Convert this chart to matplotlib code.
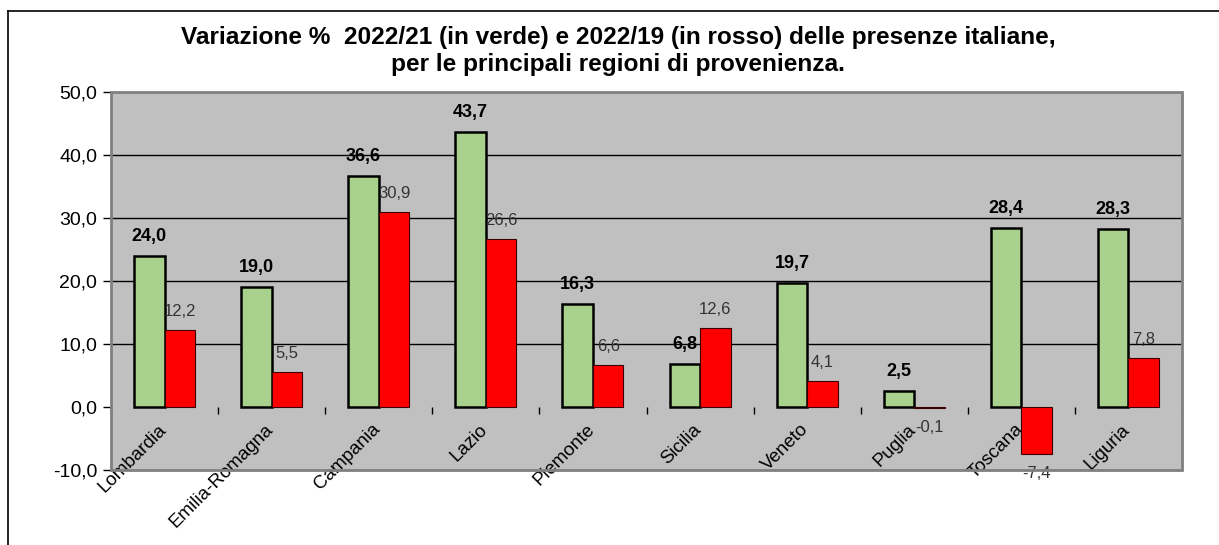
import matplotlib.pyplot as plt
import matplotlib.transforms as mtransforms
import numpy as np
from matplotlib.lines import Line2D
from matplotlib.patches import Rectangle

plt.rcParams['font.family'] = ['Liberation Sans', 'DejaVu Sans']

regioni = ["Lombardia", "Emilia-Romagna", "Campania", "Lazio", "Piemonte",
           "Sicilia", "Veneto", "Puglia", "Toscana", "Liguria"]
var_22_21 = [24.0, 19.0, 36.6, 43.7, 16.3, 6.8, 19.7, 2.5, 28.4, 28.3]
var_22_19 = [12.2, 5.5, 30.9, 26.6, 6.6, 12.6, 4.1, -0.1, -7.4, 7.8]
y_ticks = [-10, 0, 10, 20, 30, 40, 50]


def fmt(v):
    return f"{v:.1f}".replace(".", ",")


fig = plt.figure(figsize=(12.19, 5.45), dpi=100)
ax = fig.add_axes([111 / 1219, 1 - 470 / 545, (1182 - 111) / 1219, (470 - 92) / 545])
ax.set_facecolor("#c0c0c0")

x = np.arange(len(regioni))
w = 0.285
ax.bar(x - w / 2, var_22_21, w, color="#a9d18e", edgecolor="black", linewidth=1.8, zorder=3)
ax.bar(x + w / 2, var_22_19, w, color="#ff0000", edgecolor="#3a0000", linewidth=0.8, zorder=3)

for i in range(len(regioni)):
    ax.annotate(fmt(var_22_21[i]), (x[i] - w / 2, var_22_21[i]), xytext=(0, 8),
                textcoords="offset points", ha="center", va="bottom",
                fontsize=13, fontweight="bold", color="black", zorder=4)
    v = var_22_19[i]
    if v >= 0:
        ax.annotate(fmt(v), (x[i] + w / 2, v), xytext=(0, 8), textcoords="offset points",
                    ha="center", va="bottom", fontsize=12, color="#333333", zorder=4)
    else:
        ax.annotate(fmt(v), (x[i] + w / 2, v), xytext=(0, -9), textcoords="offset points",
                    ha="center", va="top", fontsize=12, color="#333333", zorder=4)

ax.set_xlim(-0.5, len(regioni) - 0.5)
ax.set_ylim(-10, 50)
ax.set_yticks(y_ticks)
ax.set_yticklabels([fmt(t) for t in y_ticks], fontsize=14)
ax.tick_params(axis="y", length=6, width=1, color="black", pad=4)
for t in [10, 20, 30, 40]:
    ax.axhline(t, color="black", linewidth=1, zorder=1)

# asse x a quota zero, senza linea, solo tacche tra le categorie
for s in ax.spines.values():
    s.set_visible(False)
ax.spines["bottom"].set_position(("data", 0))
ax.set_xticks(x)
ax.set_xticklabels(regioni, rotation=45, ha="right", rotation_mode="anchor", fontsize=13.5)
ax.tick_params(axis="x", length=0, pad=10)
ax.set_xticks(np.arange(len(regioni) + 1) - 0.5, minor=True)
ax.tick_params(axis="x", which="minor", length=5, width=1, color="black", direction="out")
shift = mtransforms.ScaledTranslation(-7 / 100, 0, fig.dpi_scale_trans)
for lab in ax.get_xticklabels():
    lab.set_transform(lab.get_transform() + shift)

ax.add_patch(Rectangle((0, 0), 1, 1, transform=ax.transAxes, fill=False,
                       edgecolor="#808080", linewidth=2, zorder=5, clip_on=False))

fig.text(618 / 1219, 1 - 51 / 545,
         "Variazione %  2022/21 (in verde) e 2022/19 (in rosso) delle presenze italiane,\n"
         "per le principali regioni di provenienza.",
         ha="center", va="center", fontsize=17.6, fontweight="bold", linespacing=1.18)

fig.add_artist(Line2D([8 / 1219, 8 / 1219], [0, 1 - 11 / 545], color="black", linewidth=1.2))
fig.add_artist(Line2D([8 / 1219, 1], [1 - 11 / 545, 1 - 11 / 545], color="black", linewidth=1.2))

plt.savefig("out.png", dpi=100)
